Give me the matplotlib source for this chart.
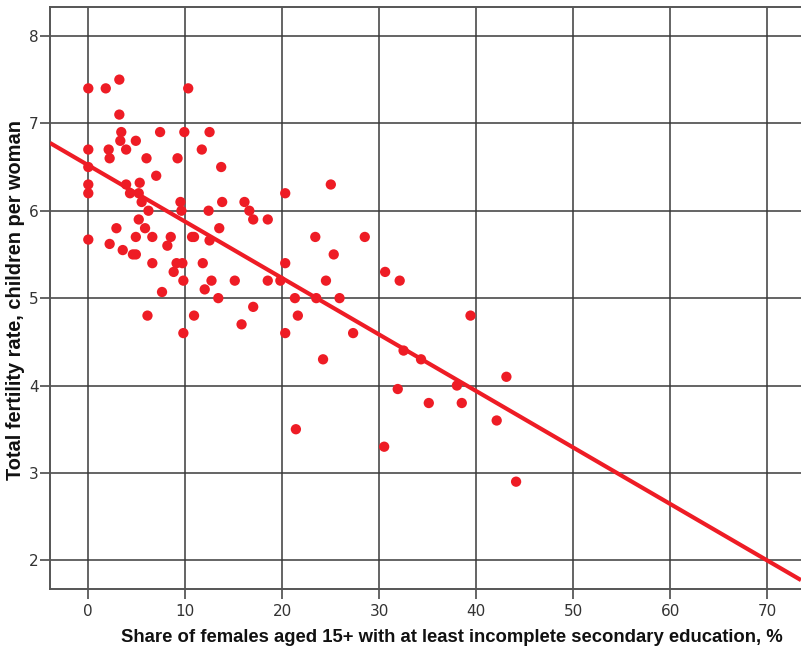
import matplotlib
matplotlib.use("Agg")
import matplotlib.pyplot as plt
import numpy as np

# share of females 15+ with at least incomplete secondary education, %
edu = [0, 1.8, 3.2, 3.2, 3.4, 3.3, 4.9, 7.4, 9.9, 0,
       2.1, 3.9, 2.2, 6.0, 9.2, 0, 7.0, 0, 0, 3.9,
       5.3, 4.3, 5.2, 5.5, 6.2, 5.2, 2.9, 5.85, 0, 2.2,
       4.9, 6.6, 8.5, 8.15, 3.55, 4.6, 4.9, 6.6, 9.1, 8.8,
       7.6, 6.1, 10.3, 12.5, 11.7, 13.7, 20.3, 9.5, 13.8, 16.1,
       9.6, 12.4, 16.6, 17.0, 18.5, 13.5, 10.7, 10.9, 12.5, 9.7,
       11.8, 20.3, 9.8, 12.7, 15.1, 18.5, 19.8, 12.0, 13.4, 21.3,
       17.0, 10.9, 21.6, 15.8, 9.8, 20.3, 25.0, 23.4, 28.5, 25.3,
       24.5, 30.6, 32.1, 23.5, 25.9, 39.4, 27.3, 24.2, 32.5, 34.3,
       38.0, 43.1, 31.9, 35.1, 38.5, 42.1, 21.4, 30.5, 44.1]

# total fertility rate, children per woman
tfr = [7.4, 7.4, 7.5, 7.1, 6.9, 6.8, 6.8, 6.9, 6.9, 6.7,
       6.7, 6.7, 6.6, 6.6, 6.6, 6.5, 6.4, 6.3, 6.2, 6.3,
       6.32, 6.2, 6.2, 6.1, 6.0, 5.9, 5.8, 5.8, 5.67, 5.62,
       5.7, 5.7, 5.7, 5.6, 5.55, 5.5, 5.5, 5.4, 5.4, 5.3,
       5.07, 4.8, 7.4, 6.9, 6.7, 6.5, 6.2, 6.1, 6.1, 6.1,
       6.0, 6.0, 6.0, 5.9, 5.9, 5.8, 5.7, 5.7, 5.66, 5.4,
       5.4, 5.4, 5.2, 5.2, 5.2, 5.2, 5.2, 5.1, 5.0, 5.0,
       4.9, 4.8, 4.8, 4.7, 4.6, 4.6, 6.3, 5.7, 5.7, 5.5,
       5.2, 5.3, 5.2, 5.0, 5.0, 4.8, 4.6, 4.3, 4.4, 4.3,
       4.0, 4.1, 3.96, 3.8, 3.8, 3.6, 3.5, 3.3, 2.9]

# linear fit as drawn in the source chart (y = a + b*x)
fit_intercept = 6.52
fit_slope = -0.0646

x_ticks = [0, 10, 20, 30, 40, 50, 60, 70]
y_ticks = [2, 3, 4, 5, 6, 7, 8]

red = "#ee1c25"
grid_col = "#3a3a3a"

fig = plt.figure(figsize=(8.01, 6.53), dpi=100)
ax = fig.add_axes([0.0624, 0.098, 0.9376, 0.8917])

ax.set_xlim(-3.95, 73.47)
ax.set_ylim(1.672, 8.334)
ax.set_xticks(x_ticks)
ax.set_yticks(y_ticks)
ax.grid(True, color=grid_col, linewidth=1.1)
ax.set_axisbelow(True)

xx = np.array(ax.get_xlim())
ax.plot(xx, fit_intercept + fit_slope * xx, color=red, linewidth=3.0, zorder=3,
        solid_capstyle="butt")

ax.scatter(edu, tfr, s=55, color=red, edgecolors="none", zorder=4)

for side in ["left", "top", "bottom"]:
    ax.spines[side].set_color("#555555")
    ax.spines[side].set_linewidth(1.4)
ax.spines["right"].set_visible(False)

ax.tick_params(axis="both", direction="out", length=7, width=1.1, color=grid_col,
               labelsize=11, labelcolor="#333333")
ax.tick_params(axis="y", pad=1)
for lab in ax.get_xticklabels() + ax.get_yticklabels():
    lab.set_family(["Liberation Sans Narrow", "DejaVu Sans"])

ax.set_xlabel("Share of females aged 15+ with at least incomplete secondary education, %",
              fontsize=13.3, fontweight="bold", family=["Liberation Sans", "DejaVu Sans"],
              color="#111111")
ax.set_ylabel("Total fertility rate, children per woman",
              fontsize=14.4, fontweight="bold", family=["Liberation Sans", "DejaVu Sans"],
              color="#111111")
ax.xaxis.set_label_coords(0.535, -0.069)
ax.yaxis.set_label_coords(-0.033, 0.497)

fig.savefig("out.png", dpi=100)
